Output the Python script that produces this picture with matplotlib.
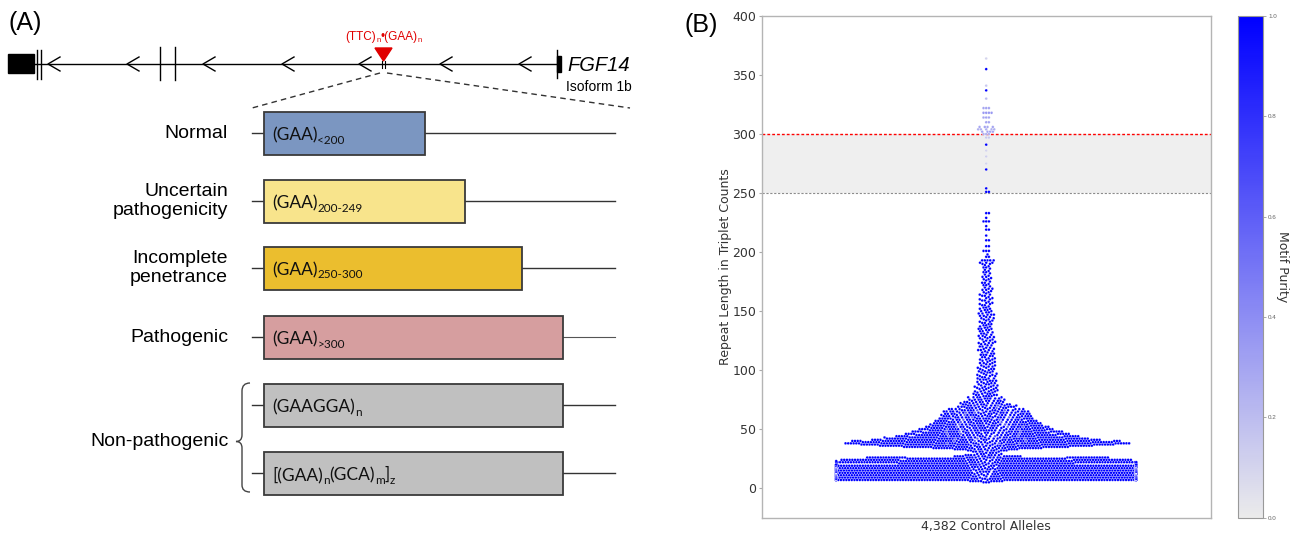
import numpy as np
import pandas as pd
import matplotlib
matplotlib.use("Agg")
import matplotlib.pyplot as plt
from matplotlib.patches import Rectangle, Polygon, PathPatch
from matplotlib.path import Path
from matplotlib.colors import LinearSegmentedColormap, Normalize
from matplotlib.cm import ScalarMappable
from matplotlib.ticker import FormatStrFormatter
from matplotlib.transforms import offset_copy

plt.rcParams["font.family"] = ["Liberation Sans", "DejaVu Sans"]

# ---------------------------------------------------------------- panel A data
category_labels = ["Normal", "Uncertain\npathogenicity", "Incomplete\npenetrance",
                   "Pathogenic", None, None]
group_label = "Non-pathogenic"
box_motifs = [
    [("(GAA)", False), ("<200", True)],
    [("(GAA)", False), ("200-249", True)],
    [("(GAA)", False), ("250-300", True)],
    [("(GAA)", False), (">300", True)],
    [("(GAAGGA)", False), ("n", True)],
    [("[(GAA)", False), ("n", True), ("(GCA)", False), ("m", True), ("]", False), ("z", True)],
]
box_length = [161, 201, 258, 299, 299, 299]
box_colors = ["#7b96c1", "#f8e48c", "#ebbe2e", "#d69e9f", "#c0c0c0", "#c0c0c0"]
exon_arrow_tips = [48, 127, 203, 282, 359, 440, 519]

# ---------------------------------------------------------------- panel B data
# repeat lengths 5..190 with the number of pure (purity 1.0) alleles at each
dense_length = np.arange(5, 191)
dense_count = [
    3, 10,
    175, 195, 205, 215, 215, 205, 200, 195, 190, 185, 180, 175, 165, 155,
    57, 56, 55, 52, 48, 40, 14, 8, 4, 4,
    5, 8, 14, 24, 34, 42, 48, 50, 48, 44,
    40, 36, 32, 29, 27, 25, 24, 23, 22, 21,
    20, 19, 18, 17, 17, 16, 15, 14, 14, 13,
    13, 13, 12, 12, 12, 11, 10, 9, 9, 8,
    8, 7, 6, 6, 5, 5, 5, 4, 4, 4,
    3, 4, 3, 3, 4, 3, 3, 3, 3, 3,
    3, 3, 3, 2, 3, 3, 2, 3, 3, 2,
    3, 2, 3, 2, 2, 3, 2, 2, 3, 2,
    2, 2, 3, 2, 2, 2, 3, 2, 2, 2,
    2, 2, 3, 2, 2, 2, 2, 3, 2, 2,
    2, 2, 2, 2, 3, 2, 2, 2, 2, 2,
    2, 2, 2, 2, 2, 2, 3, 2, 2, 2,
    2, 2, 2, 1, 2, 2, 2, 1, 2, 2,
    2, 1, 2, 2, 1, 2, 1, 2, 2, 1,
    1, 2, 1, 2, 1, 1, 2, 1, 2, 1,
    1, 1, 2, 1, 1, 1, 2, 1, 1, 2,
]
sparse_length = [191, 193, 196, 198, 201, 205, 210, 214, 219, 222, 226, 229, 233,
                 251, 254, 270, 291, 337, 355]
sparse_count = [3, 5, 2, 1, 3, 2, 2, 1, 2, 1, 3, 1, 2, 2, 1, 1, 1, 1, 1]
impure_length = [38, 40, 42, 44, 46, 48, 50, 52, 54, 56, 58, 60, 62, 64, 66, 68, 70,
                 275, 281, 286, 297, 300, 302, 304, 306, 310, 314, 318, 322, 330, 341, 364]
impure_count = [3, 3, 3, 3, 3, 3, 3, 3, 2, 2, 2, 2, 2, 2, 2, 1, 1,
                1, 1, 1, 2, 3, 4, 5, 4, 2, 3, 4, 3, 1, 1, 1]
impure_purity = [0.6, 0.55, 0.6, 0.6, 0.55, 0.6, 0.6, 0.55, 0.6, 0.6, 0.6, 0.55, 0.6,
                 0.6, 0.6, 0.6, 0.6,
                 0.1, 0.12, 0.1, 0.15, 0.25, 0.3, 0.25, 0.3, 0.3, 0.3, 0.35, 0.3, 0.2,
                 0.15, 0.1]

W, H = 1299, 534
fig = plt.figure(figsize=(W / 100, H / 100), dpi=100)
renderer = fig.canvas.get_renderer()


def rich_text(ax, x, y, parts, size, sub_size, sub_drop, ha="left", **kw):
    """Text with subscripts, laid out piece by piece on one baseline."""
    pieces = []
    for s, is_sub in parts:
        t = ax.text(x, y, s, fontsize=sub_size if is_sub else size,
                    va="baseline", ha="left", **kw)
        pieces.append((t, is_sub, t.get_window_extent(renderer).width))
    total = sum(p[2] for p in pieces)
    pos = -total / 2 if ha == "center" else 0.0
    for t, is_sub, w in pieces:
        t.set_transform(offset_copy(ax.transData, fig=fig, x=pos,
                                    y=-sub_drop if is_sub else 0, units="dots"))
        pos += w


# ---------------------------------------------------------------- panel A
axA = fig.add_axes([0, 0, 650 / W, 1])
axA.set_xlim(0, 650)
axA.set_ylim(H, 0)
axA.axis("off")

axA.plot([9, 557], [64, 64], color="black", lw=1)
axA.add_patch(Rectangle((8, 54), 26, 19, color="black"))
for xv, y0, y1 in [(36.5, 50, 79), (40.5, 50, 79), (160, 47, 80), (175, 47, 80), (557, 50, 78)]:
    axA.plot([xv, xv], [y0, y1], color="black", lw=1)
axA.add_patch(Rectangle((557, 56), 4, 16, color="black"))
for tip in exon_arrow_tips:
    axA.plot([tip + 12, tip, tip + 12], [57, 64, 71], color="black", lw=1)
for xv in (381.5, 385):
    axA.plot([xv, xv], [61, 68], color="black", lw=0.8)
axA.add_patch(Polygon([[375, 48], [392, 48], [383.5, 61]], color="#e00000"))
rich_text(axA, 383.5, 40, [("(TTC)", False), ("n", True), ("•(GAA)", False), ("n", True)],
          8.5, 5.5, 2, ha="center", color="#e00000")
axA.text(567, 71, "FGF14", style="italic", fontsize=14.5, va="baseline")
axA.text(566, 91, "Isoform 1b", fontsize=10, va="baseline")
axA.plot([380, 252], [73, 108], color="#333333", lw=1, ls=(0, (4, 3)))
axA.plot([387, 630], [73, 108], color="#333333", lw=1, ls=(0, (4, 3)))

row_centers = [133, 201, 268, 337, 405, 473]
for i, yc in enumerate(row_centers):
    thin = category_labels[i] == "Pathogenic"
    axA.plot([252, 264], [yc, yc], color="#333333", lw=1, zorder=1)
    axA.plot([264, 615], [yc, yc], color="#555555" if thin else "#333333",
             lw=0.8 if thin else 1, zorder=1)
    axA.add_patch(Rectangle((264, yc - 21.5), box_length[i], 43, fc=box_colors[i],
                            ec="#3a3a3a", lw=1.3, zorder=3))
    rich_text(axA, 272, yc + 7, box_motifs[i], 12.5, 8.5, 3.5,
              family="Lato", color="#111111", zorder=4)
    if category_labels[i]:
        axA.text(228, yc, category_labels[i], ha="right", va="center", fontsize=14,
                 linespacing=1.13, multialignment="right")

axA.text(229, 441, group_label, ha="right", va="center", fontsize=14)
brace = Path(
    [(250, 383), (242, 383), (242, 391), (242, 435), (242, 441.5), (236, 441.5),
     (242, 441.5), (242, 448), (242, 485), (242, 492), (250, 492)],
    [Path.MOVETO, Path.CURVE3, Path.CURVE3, Path.LINETO, Path.CURVE3, Path.CURVE3,
     Path.CURVE3, Path.CURVE3, Path.LINETO, Path.CURVE3, Path.CURVE3])
axA.add_patch(PathPatch(brace, fill=False, lw=1, ec="#444444"))

fig.text(8 / W, 1 - 23 / H, "(A)", fontsize=18, va="center")
fig.text(685 / W, 1 - 25 / H, "(B)", fontsize=18, va="center")

# ---------------------------------------------------------------- panel B
axB = fig.add_axes([761.7 / W, (H - 517.7) / H, 449 / W, 501.7 / H])
y_lo, y_hi = -25, 400
axB.set_xlim(-0.5, 0.5)
axB.set_ylim(y_lo, y_hi)

alleles = pd.concat([
    pd.DataFrame({"length": np.repeat(dense_length, dense_count), "purity": 1.0, "impure": False}),
    pd.DataFrame({"length": np.repeat(sparse_length, sparse_count), "purity": 1.0, "impure": False}),
    pd.DataFrame({"length": np.repeat(impure_length, impure_count),
                  "purity": np.repeat(impure_purity, impure_count), "impure": True}),
], ignore_index=True)
# interleave the lower-purity alleles among the pure ones of the same length
alleles["rank"] = alleles.groupby(["length", "impure"]).cumcount().astype(float)
alleles.loc[alleles["impure"], "rank"] = alleles.loc[alleles["impure"], "rank"] * 4 + 2.5
alleles = alleles.sort_values(["length", "rank"], kind="stable").reset_index(drop=True)
values = alleles["length"].to_numpy(float)
purity = alleles["purity"].to_numpy(float)

bbox = axB.get_window_extent(renderer)
px_per_x = bbox.width / 1.0
px_per_y = bbox.height / (y_hi - y_lo)
dot = 2.7  # marker diameter in pixels


def swarm_offsets(y_px, d):
    """Greedy beeswarm: each point goes to the free spot nearest the centre."""
    x = np.zeros_like(y_px)
    first = 0
    for i in range(1, len(y_px)):
        while y_px[i] - y_px[first] >= d:
            first += 1
        if first == i:
            continue
        dy = y_px[i] - y_px[first:i]
        w = np.sqrt(d * d - dy * dy)
        left = x[first:i] - w
        right = x[first:i] + w
        o = np.argsort(left)
        left, right = left[o], right[o]
        reach = np.maximum.accumulate(right)
        new = np.r_[True, left[1:] > reach[:-1]]
        starts = left[new]
        ends = reach[np.r_[np.flatnonzero(new)[1:] - 1, len(left) - 1]]
        hit = np.flatnonzero((starts < 0) & (ends > 0))
        if hit.size:
            k = hit[0]
            x[i] = ends[k] if ends[k] <= -starts[k] else starts[k]
    return x


gutter = 150 / px_per_x
x_pos = np.clip(swarm_offsets(values * px_per_y, dot) / px_per_x, -gutter, gutter)

cmap = LinearSegmentedColormap.from_list("purity", ["#ebebeb", "#0000ff"])
norm = Normalize(0, 1)
axB.axhspan(250, 300, color="#efefef", zorder=0, lw=0)
axB.axhline(300, color="#ff0000", lw=1, ls=(0, (2, 1.5)), zorder=1)
axB.axhline(250, color="#8c8c8c", lw=0.8, ls=(0, (2, 1.5)), zorder=1)
axB.scatter(x_pos, values, c=purity, cmap=cmap, norm=norm, s=(dot * 0.72) ** 2,
            edgecolors="white", linewidths=0.15, zorder=3)

axB.set_yticks(np.arange(0, 401, 50))
axB.set_xticks([])
axB.tick_params(axis="y", labelsize=9, length=2.5, width=0.8, pad=1.5,
                colors="#aaaaaa", labelcolor="#333333")
for lab in axB.get_yticklabels():
    lab.set_family("DejaVu Sans")
for sp in axB.spines.values():
    sp.set_color("#b4b4b4")
    sp.set_linewidth(1)
axB.set_ylabel("Repeat Length in Triplet Counts", fontsize=9, color="#333333",
               family="DejaVu Sans", labelpad=0.5)
axB.set_xlabel("4,382 Control Alleles", fontsize=9, color="#333333",
               family="DejaVu Sans", labelpad=2)

cax = fig.add_axes([1238.3 / W, (H - 517.7) / H, 25 / W, 501.7 / H])
cb = fig.colorbar(ScalarMappable(norm=norm, cmap=cmap), cax=cax)
cb.set_ticks([0.0, 0.2, 0.4, 0.6, 0.8, 1.0])
cb.ax.yaxis.set_major_formatter(FormatStrFormatter("%.1f"))
cb.ax.tick_params(labelsize=4.5, length=2, width=0.5, colors="#888888",
                  labelcolor="#666666", pad=1.5)
cb.outline.set_edgecolor("#999999")
cb.outline.set_linewidth(0.8)
cb.set_label("Motif Purity", rotation=270, fontsize=9, color="#333333",
             family="DejaVu Sans", labelpad=9)

fig.savefig("out.png", dpi=100)
